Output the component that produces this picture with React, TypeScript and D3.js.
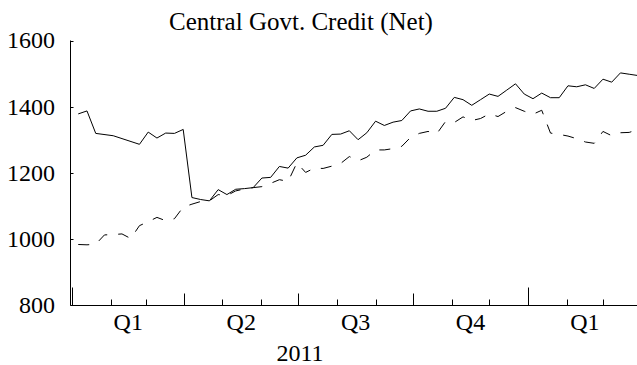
import React from "react";
import * as d3 from "d3";

// Weekly observations (Thursdays), values in billions
const netCreditDates = [
  "2011-01-06", "2011-01-13", "2011-01-20", "2011-02-03", "2011-02-24", "2011-03-03",
  "2011-03-10", "2011-03-17", "2011-03-24", "2011-03-31", "2011-04-07", "2011-04-14",
  "2011-04-21", "2011-04-28", "2011-05-05", "2011-05-12", "2011-05-19", "2011-05-26",
  "2011-06-02", "2011-06-09", "2011-06-16", "2011-06-23", "2011-06-30", "2011-07-07",
  "2011-07-14", "2011-07-21", "2011-07-28", "2011-08-04", "2011-08-11", "2011-08-18",
  "2011-08-25", "2011-09-01", "2011-09-08", "2011-09-15", "2011-09-22", "2011-09-29",
  "2011-10-06", "2011-10-13", "2011-10-20", "2011-10-27", "2011-11-03", "2011-11-10",
  "2011-11-17", "2011-11-24", "2011-12-01", "2011-12-08", "2011-12-15", "2011-12-22",
  "2011-12-29", "2012-01-05", "2012-01-12", "2012-01-19", "2012-01-26", "2012-02-02",
  "2012-02-09", "2012-02-16", "2012-02-23", "2012-03-01", "2012-03-08", "2012-03-15",
  "2012-03-22", "2012-03-29",
];
const netCreditValues = [
  1378, 1387, 1319, 1312, 1286, 1323,
  1305, 1320, 1319, 1331, 1125, 1119,
  1115, 1149, 1134, 1150, 1152, 1155,
  1184, 1186, 1219, 1214, 1245, 1253,
  1278, 1283, 1316, 1317, 1327, 1300,
  1321, 1356, 1343, 1353, 1358, 1387,
  1393, 1386, 1386, 1395, 1428, 1421,
  1404, 1421, 1438, 1431, 1450, 1469,
  1438, 1424, 1441, 1427, 1427, 1463,
  1460, 1466, 1455, 1483, 1474, 1502,
  1498, 1494,
];

const comparisonDates = [
  "2011-01-06", "2011-01-13", "2011-01-20", "2011-01-27", "2011-02-03", "2011-02-10",
  "2011-02-17", "2011-02-24", "2011-03-03", "2011-03-10", "2011-03-17", "2011-03-24",
  "2011-03-31", "2011-04-07", "2011-04-14", "2011-04-21", "2011-04-28", "2011-05-05",
  "2011-05-12", "2011-05-19", "2011-05-26", "2011-06-02", "2011-06-09", "2011-06-16",
  "2011-06-23", "2011-06-30", "2011-07-07", "2011-07-14", "2011-07-21", "2011-07-28",
  "2011-08-04", "2011-08-11", "2011-08-18", "2011-08-25", "2011-09-01", "2011-09-08",
  "2011-09-15", "2011-09-22", "2011-09-29", "2011-10-06", "2011-10-13", "2011-10-20",
  "2011-10-27", "2011-11-03", "2011-11-10", "2011-11-17", "2011-11-24", "2011-12-01",
  "2011-12-08", "2011-12-15", "2011-12-22", "2011-12-29", "2012-01-05", "2012-01-12",
  "2012-01-19", "2012-01-26", "2012-02-02", "2012-02-09", "2012-02-16", "2012-02-23",
  "2012-03-01", "2012-03-08", "2012-03-15", "2012-03-22", "2012-03-29",
];
const comparisonValues = [
  983, 982, 984, 1012, 1013, 1015,
  1001, 1040, 1052, 1065, 1055, 1061,
  1096, 1105, 1113, 1115, 1134, 1131,
  1145, 1151, 1155, 1158, 1168, 1179,
  1174, 1230, 1201, 1214, 1213, 1220,
  1228, 1249, 1236, 1247, 1269, 1269,
  1273, 1280, 1307, 1319, 1325, 1318,
  1355, 1352, 1369, 1358, 1364, 1378,
  1370, 1386, 1397, 1386, 1377, 1389,
  1320, 1316, 1311, 1303, 1293, 1289,
  1325, 1312, 1321, 1322, 1331,
];

const yTicks = [800, 1000, 1200, 1400, 1600];
const quarterLabels = ["Q1", "Q2", "Q3", "Q4", "Q1"];
const quarterStarts = ["2011-01-01", "2011-04-01", "2011-07-01", "2011-10-01", "2012-01-01"];
const yearLabel = "2011";
const title = "Central Govt. Credit (Net)";

const W = 637;
const H = 365;
const FONT = "'Liberation Serif', 'Times New Roman', serif";

const parse = (s: string) => new Date(s + "T00:00:00Z");

export default function App() {
  const x = d3
    .scaleUtc()
    .domain([parse("2011-01-01"), parse("2012-01-01")])
    .range([72, 528]);
  const y = d3.scaleLinear().domain([800, 1600]).range([305, 40.5]);

  const axisLeft = 70.5;
  const axisBottom = 305.5;
  const xEnd = W;

  const line = d3
    .line<[Date, number]>()
    .x((d) => x(d[0]))
    .y((d) => y(d[1]));

  const netPts: [Date, number][] = netCreditDates.map((d, i) => [parse(d), netCreditValues[i]]);
  const cmpPts: [Date, number][] = comparisonDates.map((d, i) => [parse(d), comparisonValues[i]]);

  const months = d3
    .utcMonth
    .range(parse("2011-01-01"), parse("2012-04-01"))
    .filter((m) => x(m) <= xEnd);

  const tickLen = (m: Date) => {
    if (m.getUTCMonth() === 0) return 18;
    if (m.getUTCMonth() % 3 === 0) return 12;
    return 6;
  };

  return (
    <svg
      width={W}
      height={H}
      style={{ position: "absolute", left: 0, top: 0, background: "#fff" }}
      fontFamily={FONT}
    >
      <text x={301} y={30} textAnchor="middle" fontSize={25} fill="#000">
        {title}
      </text>

      {/* y axis */}
      <line x1={axisLeft} x2={axisLeft} y1={y(1600)} y2={axisBottom} stroke="#000" strokeWidth={1} />
      {yTicks.map((t) => (
        <g key={t}>
          <line
            x1={axisLeft}
            x2={axisLeft + 3}
            y1={Math.round(y(t)) + 0.5}
            y2={Math.round(y(t)) + 0.5}
            stroke="#000"
          />
          <text x={55} y={y(t)} dy="0.33em" textAnchor="end" fontSize={24} fill="#000">
            {t}
          </text>
        </g>
      ))}

      {/* x axis */}
      <line x1={axisLeft} x2={xEnd} y1={axisBottom} y2={axisBottom} stroke="#000" strokeWidth={1} />
      {months.map((m) => {
        const px = Math.round(x(m)) + 0.5;
        return (
          <line
            key={m.toISOString()}
            x1={px}
            x2={px}
            y1={axisBottom}
            y2={axisBottom - tickLen(m)}
            stroke="#000"
          />
        );
      })}
      {quarterLabels.map((q, i) => {
        const s = parse(quarterStarts[i]);
        const e = d3.utcMonth.offset(s, 3);
        const cx = (x(s) + x(e)) / 2;
        return (
          <text key={i} x={cx} y={330} textAnchor="middle" fontSize={24} fill="#000">
            {q}
          </text>
        );
      })}
      <text
        x={(x(parse("2011-01-01")) + x(parse("2012-01-01"))) / 2}
        y={361}
        textAnchor="middle"
        fontSize={24}
        fill="#000"
      >
        {yearLabel}
      </text>

      {/* series */}
      <path d={line(netPts) ?? ""} fill="none" stroke="#000" strokeWidth={1} />
      <path
        d={line(cmpPts) ?? ""}
        fill="none"
        stroke="#000"
        strokeWidth={1}
        strokeDasharray="11,11"
      />
    </svg>
  );
}
